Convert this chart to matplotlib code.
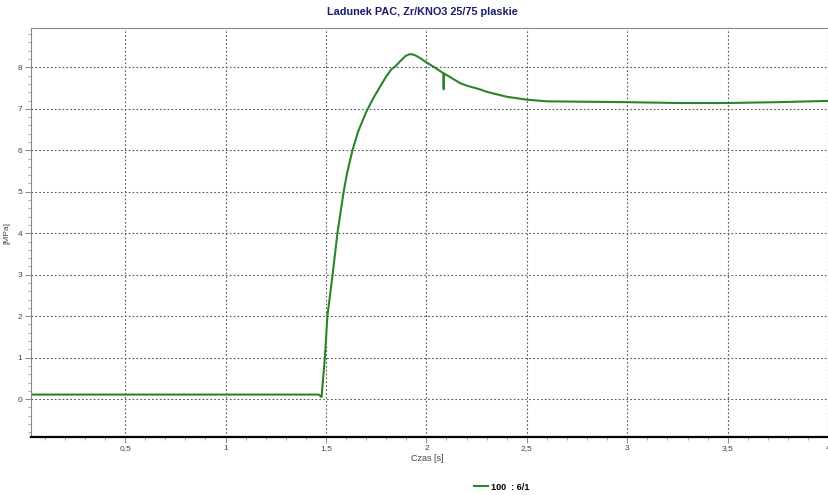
import matplotlib
matplotlib.use('Agg')
import matplotlib.pyplot as plt
from matplotlib.ticker import MultipleLocator, FuncFormatter

# pressure trace
czas = [0.03, 0.5, 1.0, 1.45, 1.465, 1.478, 1.495, 1.507, 1.52, 1.533, 1.557,
        1.588, 1.605, 1.632, 1.66, 1.70, 1.735, 1.769, 1.80, 1.827, 1.845,
        1.868, 1.895, 1.918, 1.94, 1.97, 2.0, 2.04, 2.084, 2.086, 2.088,
        2.12, 2.167, 2.2, 2.266, 2.3, 2.35, 2.4, 2.5, 2.6, 2.8, 3.0, 3.25,
        3.5, 3.75, 4.0]
cisnienie = [0.11, 0.11, 0.11, 0.11, 0.11, 0.05, 1.02, 2.0, 2.5, 3.0, 4.0,
             5.0, 5.45, 6.0, 6.45, 6.92, 7.25, 7.53, 7.78, 7.96, 8.02,
             8.14, 8.27, 8.32, 8.3, 8.22, 8.12, 8.0, 7.86, 7.47, 7.85,
             7.76, 7.62, 7.56, 7.47, 7.41, 7.35, 7.29, 7.22, 7.18, 7.17, 7.16, 7.14,
             7.14, 7.16, 7.19]
seria = '100  : 6/1'
tytul = 'Ladunek PAC, Zr/KNO3 25/75 plaskie'

narrow = ['Liberation Sans Narrow', 'Liberation Sans', 'DejaVu Sans']

fig = plt.figure(figsize=(8.29, 4.95), dpi=100)
ax = fig.add_axes([0.037, 0.1166, 0.962, 0.8274])

ax.plot(czas, cisnienie, color='#2a842a', lw=1.5, label=seria)

ax.set_xlim(0.03, 4.0)
ax.set_ylim(-0.92, 8.955)
ax.xaxis.set_major_locator(MultipleLocator(0.5))
ax.xaxis.set_minor_locator(MultipleLocator(0.1))
ax.yaxis.set_major_locator(MultipleLocator(1))
ax.yaxis.set_minor_locator(MultipleLocator(0.2))
ax.xaxis.set_major_formatter(FuncFormatter(lambda v, p: ('%g' % v).replace('.', ',')))

ax.grid(True, which='major', color='#555555', lw=0.8, linestyle=(0, (1.5, 2)))
ax.tick_params(which='major', length=4, width=0.6, color='#777777',
               labelsize=6, labelcolor='#444444', pad=2)
ax.tick_params(axis='x', which='major', pad=1.5)
ax.tick_params(which='minor', length=2, width=0.6, color='#999999')
for lab in ax.get_xticklabels() + ax.get_yticklabels():
    lab.set_family(narrow)

ax.spines['right'].set_visible(False)
ax.spines['top'].set_color('#888888')
ax.spines['left'].set_color('#888888')
ax.spines['bottom'].set_color('black')
ax.spines['bottom'].set_linewidth(1.6)

ax.set_xlabel('Czas [s]', fontsize=6.5, family=narrow, color='#444444')
ax.xaxis.set_label_coords(0.497, -0.042)
ax.set_ylabel('[MPa]', fontsize=6, family=narrow, color='#444444')
ax.yaxis.set_label_coords(-0.025, 0.5)

fig.suptitle(tytul, x=0.51, y=0.985, fontsize=7.8, fontweight='bold',
             color='#1c1c6e', family=['Liberation Sans', 'DejaVu Sans'])

leg = ax.legend(loc='center', bbox_to_anchor=(0.605, 0.016), bbox_transform=fig.transFigure,
                frameon=False, handlelength=1.6, handletextpad=0.3,
                prop={'family': narrow, 'weight': 'bold', 'size': 6.5})

fig.savefig('out.png', dpi=100)
